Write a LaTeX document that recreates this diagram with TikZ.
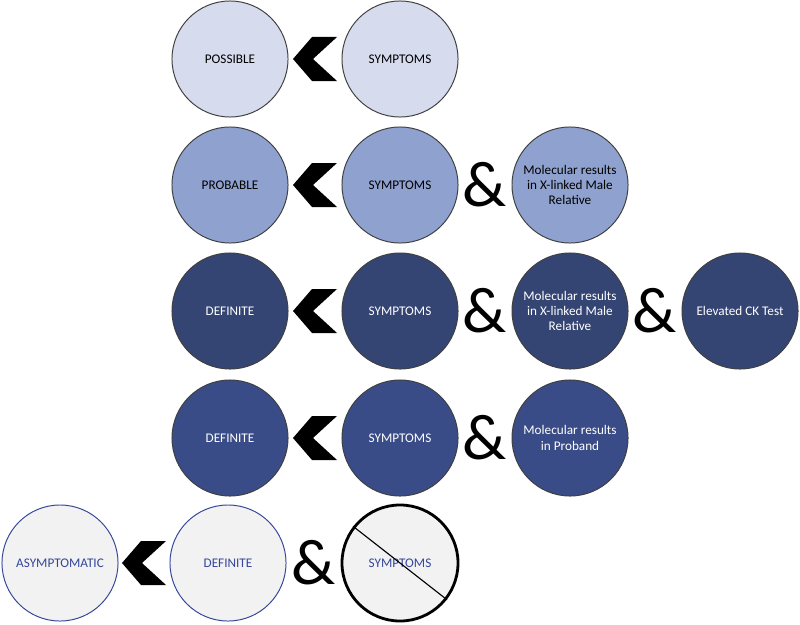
\documentclass[tikz,border=0pt]{standalone}
\usepackage{fontspec}
\setmainfont{Carlito}
\usetikzlibrary{calc}

\begin{document}
\begin{tikzpicture}
		[x=0.025cm,y=-0.025cm,line cap=round,
		%Styles
		stage/.style={circle,draw=stagedraw,line width=0.7pt,minimum size=2.9cm,inner sep=1pt,align=center,font=\fontsize{9.4}{10.8}\selectfont},
		possible/.style={stage,fill=possiblefill,text=black},
		probable/.style={stage,fill=probablefill,text=black},
		definite/.style={stage,fill=definitefill,text=white},
		definite two/.style={stage,fill=definitetwofill,text=white},
		carrier/.style={stage,draw=carrierdraw,fill=carrierfill,text=carrierdraw},
		and sign/.style={inner sep=0pt,font=\fontsize{46}{46}\selectfont},
		chevron/.pic={\fill[black] (-22,0) -- (-3,-22) -- (22,-22) -- (-2,0) -- (22,22) -- (-3,22) -- cycle;}
		]
		
		%Colors
		\definecolor{stagedraw}{HTML}{404040}
		\definecolor{possiblefill}{HTML}{D6DBEE}
		\definecolor{probablefill}{HTML}{8FA1CF}
		\definecolor{definitefill}{HTML}{344573}
		\definecolor{definitetwofill}{HTML}{3A4C87}
		\definecolor{carrierfill}{HTML}{F2F2F2}
		\definecolor{carrierdraw}{HTML}{34479A}
		
		\useasboundingbox (0,0) rectangle (800,624);
		
		%The graphic
		\node[possible] (pos) at (230,59) {POSSIBLE};
		\node[possible] (posSym) at (400,59) {SYMPTOMS};
		\path ($(pos.east)!.5!(posSym.west)$) pic {chevron};
		
		\node[probable] (prob) at (230,185) {PROBABLE};
		\node[probable] (probSym) at (400,185) {SYMPTOMS};
		\node[probable] (probMol) at (570,185) {Molecular results\\in X-linked Male\\Relative};
		\path ($(prob.east)!.5!(probSym.west)$) pic {chevron};
		\node[and sign] at ($(probSym.east)!.5!(probMol.west)$) {\&};
		
		\node[definite] (defA) at (230,311) {DEFINITE};
		\node[definite] (defASym) at (400,311) {SYMPTOMS};
		\node[definite] (defAMol) at (570,311) {Molecular results\\in X-linked Male\\Relative};
		\node[definite] (defACK) at (740,311) {Elevated CK Test};
		\path ($(defA.east)!.5!(defASym.west)$) pic {chevron};
		\node[and sign] at ($(defASym.east)!.5!(defAMol.west)$) {\&};
		\node[and sign] at ($(defAMol.east)!.5!(defACK.west)$) {\&};
		
		\node[definite two] (defB) at (230,438) {DEFINITE};
		\node[definite two] (defBSym) at (400,438) {SYMPTOMS};
		\node[definite two] (defBMol) at (570,438) {Molecular results\\in Proband};
		\path ($(defB.east)!.5!(defBSym.west)$) pic {chevron};
		\node[and sign] at ($(defBSym.east)!.5!(defBMol.west)$) {\&};
		
		\node[carrier] (asym) at (60,563) {ASYMPTOMATIC};
		\node[carrier] (asymDef) at (228,563) {DEFINITE};
		\node[carrier,draw=black,line width=2pt] (asymSym) at (400,563) {SYMPTOMS};
		\draw[line width=0.8pt] (asymSym.142) -- (asymSym.-38);
		\path ($(asym.east)!.5!(asymDef.west)$) pic {chevron};
		\node[and sign] at ($(asymDef.east)!.5!(asymSym.west)$) {\&};
	\end{tikzpicture}
\end{document}
